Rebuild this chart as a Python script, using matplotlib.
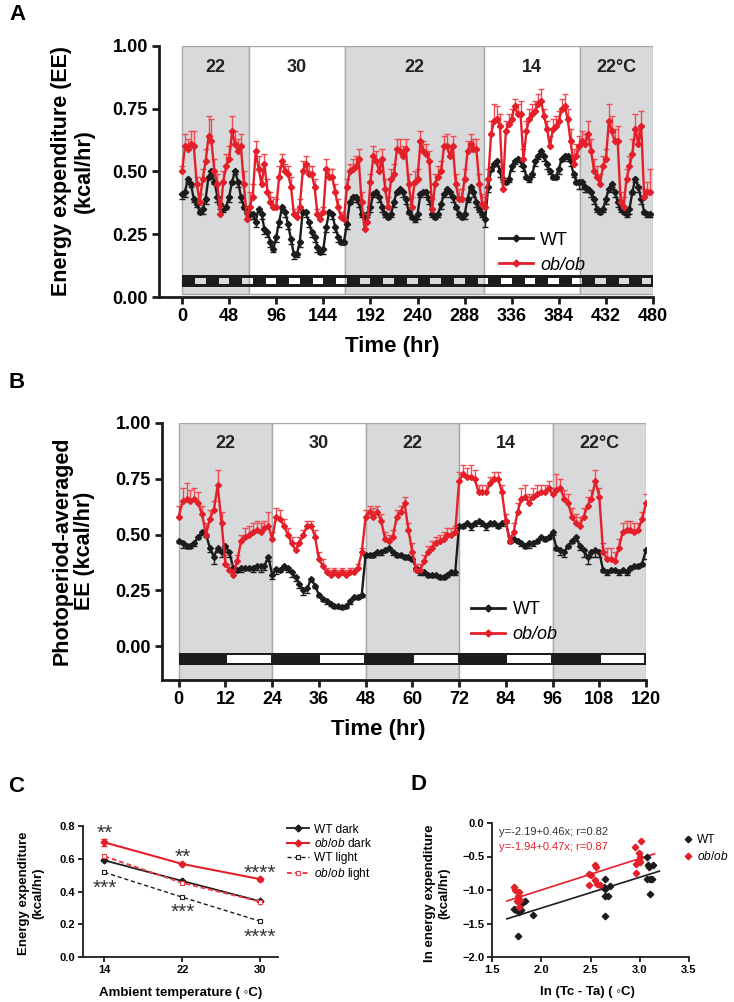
import numpy as np
import matplotlib.pyplot as plt
from matplotlib.patches import Rectangle
from matplotlib.lines import Line2D

plt.rcParams['mathtext.fontset'] = 'custom'
plt.rcParams['mathtext.it'] = 'Liberation Sans:italic'
plt.rcParams['mathtext.rm'] = 'Liberation Sans'

NARROW = ['Liberation Sans Narrow', 'DejaVu Sans Condensed', 'Liberation Sans', 'DejaVu Sans']
ARIAL = ['Liberation Sans', 'DejaVu Sans']
RED = '#e3202a'
RED_ERR = '#ee4b52'
BLACK = '#1c1c1c'
GRAY_BG = '#d8d9db'
EDGE = '#a8a8a8'

# ---- panel A: 3-hr bins over 480 hr (one row per day) ----
a_hours = np.arange(0, 480, 3)
a_wt = [0.41, 0.42, 0.47, 0.45, 0.39, 0.37, 0.34, 0.35,
        0.39, 0.48, 0.50, 0.46, 0.40, 0.37, 0.35, 0.36,
        0.40, 0.46, 0.50, 0.46, 0.40, 0.36, 0.34, 0.33,
        0.33, 0.30, 0.35, 0.33, 0.27, 0.26, 0.22, 0.19,
        0.24, 0.30, 0.36, 0.34, 0.29, 0.23, 0.17, 0.17,
        0.22, 0.34, 0.34, 0.30, 0.26, 0.24, 0.20, 0.18,
        0.19, 0.28, 0.34, 0.33, 0.28, 0.24, 0.22, 0.22,
        0.29, 0.38, 0.40, 0.40, 0.38, 0.33, 0.32, 0.33,
        0.36, 0.41, 0.42, 0.40, 0.36, 0.33, 0.32, 0.33,
        0.38, 0.42, 0.43, 0.42, 0.39, 0.34, 0.32, 0.31,
        0.33, 0.41, 0.42, 0.42, 0.39, 0.33, 0.32, 0.33,
        0.37, 0.41, 0.43, 0.42, 0.40, 0.36, 0.33, 0.32,
        0.33, 0.39, 0.44, 0.42, 0.38, 0.35, 0.33, 0.31,
        0.44, 0.51, 0.53, 0.54, 0.50, 0.47, 0.46, 0.47,
        0.52, 0.54, 0.55, 0.54, 0.52, 0.48, 0.47, 0.49,
        0.54, 0.56, 0.58, 0.56, 0.53, 0.50, 0.48, 0.48,
        0.51, 0.55, 0.56, 0.56, 0.54, 0.49, 0.46, 0.46,
        0.46, 0.44, 0.43, 0.42, 0.39, 0.35, 0.34, 0.35,
        0.39, 0.43, 0.45, 0.42, 0.38, 0.35, 0.34, 0.33,
        0.35, 0.42, 0.47, 0.44, 0.39, 0.34, 0.33, 0.33]
a_wt_err = [0.02, 0.02, 0.01, 0.01, 0.01, 0.01, 0.01, 0.02,
            0.02, 0.01, 0.01, 0.01, 0.02, 0.02, 0.01, 0.01,
            0.02, 0.01, 0.01, 0.02, 0.02, 0.01, 0.01, 0.02,
            0.02, 0.02, 0.01, 0.02, 0.02, 0.02, 0.02, 0.01,
            0.02, 0.02, 0.01, 0.02, 0.02, 0.02, 0.02, 0.01,
            0.02, 0.01, 0.02, 0.02, 0.02, 0.02, 0.02, 0.01,
            0.02, 0.02, 0.01, 0.02, 0.02, 0.02, 0.01, 0.01,
            0.02, 0.01, 0.01, 0.02, 0.02, 0.01, 0.01, 0.01,
            0.02, 0.01, 0.01, 0.02, 0.02, 0.01, 0.01, 0.01,
            0.02, 0.01, 0.01, 0.02, 0.02, 0.01, 0.01, 0.01,
            0.02, 0.01, 0.01, 0.02, 0.02, 0.01, 0.01, 0.01,
            0.02, 0.01, 0.01, 0.02, 0.02, 0.01, 0.01, 0.01,
            0.02, 0.01, 0.01, 0.02, 0.02, 0.01, 0.01, 0.03,
            0.02, 0.01, 0.01, 0.02, 0.02, 0.01, 0.01, 0.01,
            0.02, 0.01, 0.01, 0.02, 0.02, 0.01, 0.01, 0.01,
            0.02, 0.01, 0.01, 0.02, 0.02, 0.01, 0.01, 0.01,
            0.02, 0.01, 0.01, 0.02, 0.02, 0.01, 0.01, 0.03,
            0.03, 0.02, 0.01, 0.02, 0.02, 0.01, 0.01, 0.01,
            0.02, 0.01, 0.01, 0.02, 0.02, 0.01, 0.01, 0.01,
            0.02, 0.01, 0.01, 0.02, 0.02, 0.01, 0.01, 0.01]
a_ob = [0.50, 0.60, 0.59, 0.61, 0.60, 0.45, 0.38, 0.47,
        0.54, 0.64, 0.62, 0.50, 0.45, 0.33, 0.46, 0.52,
        0.55, 0.66, 0.61, 0.58, 0.60, 0.45, 0.31, 0.36,
        0.40, 0.58, 0.51, 0.45, 0.53, 0.42, 0.38, 0.36,
        0.36, 0.48, 0.54, 0.50, 0.49, 0.44, 0.33, 0.32,
        0.36, 0.50, 0.53, 0.49, 0.49, 0.44, 0.33, 0.31,
        0.34, 0.51, 0.48, 0.48, 0.42, 0.36, 0.32, 0.31,
        0.44, 0.50, 0.51, 0.52, 0.55, 0.38, 0.27, 0.30,
        0.46, 0.56, 0.54, 0.50, 0.55, 0.43, 0.36, 0.47,
        0.49, 0.59, 0.58, 0.56, 0.59, 0.45, 0.36, 0.46,
        0.47, 0.62, 0.58, 0.57, 0.54, 0.35, 0.45, 0.48,
        0.50, 0.60, 0.60, 0.56, 0.60, 0.45, 0.39, 0.39,
        0.47, 0.58, 0.61, 0.59, 0.59, 0.45, 0.37, 0.36,
        0.47, 0.65, 0.70, 0.71, 0.68, 0.43, 0.66, 0.69,
        0.71, 0.76, 0.73, 0.73, 0.55, 0.66, 0.71, 0.73,
        0.74, 0.77, 0.78, 0.72, 0.67, 0.60, 0.67, 0.68,
        0.70, 0.75, 0.76, 0.71, 0.62, 0.53, 0.56, 0.60,
        0.62, 0.61, 0.65, 0.58, 0.50, 0.48, 0.45, 0.52,
        0.55, 0.70, 0.66, 0.62, 0.62, 0.38, 0.36, 0.47,
        0.52, 0.57, 0.67, 0.61, 0.68, 0.40, 0.42, 0.42]
a_ob_err = [0.02, 0.05, 0.04, 0.05, 0.06, 0.03, 0.03, 0.04,
            0.05, 0.08, 0.09, 0.05, 0.04, 0.03, 0.04, 0.05,
            0.05, 0.06, 0.05, 0.05, 0.05, 0.05, 0.03, 0.06,
            0.05, 0.04, 0.05, 0.05, 0.04, 0.05, 0.04, 0.04,
            0.03, 0.04, 0.03, 0.03, 0.03, 0.04, 0.02, 0.02,
            0.03, 0.04, 0.03, 0.03, 0.03, 0.03, 0.02, 0.02,
            0.02, 0.04, 0.03, 0.03, 0.03, 0.03, 0.02, 0.02,
            0.03, 0.03, 0.04, 0.04, 0.04, 0.04, 0.03, 0.03,
            0.03, 0.04, 0.04, 0.04, 0.04, 0.04, 0.04, 0.04,
            0.04, 0.04, 0.05, 0.04, 0.04, 0.04, 0.04, 0.04,
            0.04, 0.04, 0.04, 0.04, 0.04, 0.04, 0.04, 0.04,
            0.04, 0.04, 0.05, 0.04, 0.04, 0.04, 0.04, 0.04,
            0.04, 0.04, 0.04, 0.04, 0.04, 0.04, 0.04, 0.04,
            0.04, 0.05, 0.07, 0.05, 0.05, 0.04, 0.04, 0.04,
            0.04, 0.03, 0.04, 0.05, 0.04, 0.04, 0.04, 0.04,
            0.04, 0.04, 0.05, 0.03, 0.03, 0.04, 0.04, 0.04,
            0.04, 0.04, 0.05, 0.04, 0.05, 0.06, 0.05, 0.04,
            0.04, 0.04, 0.05, 0.05, 0.05, 0.04, 0.04, 0.04,
            0.04, 0.07, 0.06, 0.05, 0.06, 0.04, 0.04, 0.04,
            0.04, 0.06, 0.06, 0.06, 0.06, 0.03, 0.04, 0.09]
a_bounds = [0, 68, 166, 308, 406, 480]
a_temps = ['22', '30', '22', '14', '22°C']

# ---- panel B: hourly photoperiod-averaged EE, 0-120 hr ----
b_hours = np.arange(0, 121)
b_wt = [0.47, 0.46, 0.45, 0.45, 0.46, 0.49, 0.51, 0.50, 0.44, 0.40, 0.44, 0.42,
        0.45, 0.42, 0.35, 0.34, 0.35, 0.35, 0.35, 0.35, 0.36, 0.36, 0.36, 0.40,
        0.32, 0.345, 0.34, 0.36, 0.35, 0.33, 0.31, 0.28, 0.25, 0.26, 0.30, 0.27,
        0.23, 0.21, 0.20, 0.19, 0.18, 0.18, 0.175, 0.18, 0.20, 0.22, 0.22, 0.23,
        0.41, 0.41, 0.41, 0.42, 0.42, 0.43, 0.44, 0.42, 0.41, 0.41, 0.40, 0.40,
        0.39, 0.35, 0.33, 0.33, 0.32, 0.32, 0.32, 0.31, 0.31, 0.32, 0.33, 0.33,
        0.54, 0.54, 0.55, 0.54, 0.55, 0.56, 0.55, 0.54, 0.55, 0.55, 0.54, 0.55,
        0.56, 0.47, 0.48, 0.47, 0.46, 0.45, 0.46, 0.46, 0.47, 0.49, 0.48, 0.49,
        0.51, 0.44, 0.43, 0.42, 0.45, 0.47, 0.49, 0.45, 0.43, 0.40, 0.42, 0.43,
        0.42, 0.34, 0.33, 0.34, 0.34, 0.33, 0.34, 0.33, 0.35, 0.36, 0.36, 0.37, 0.43]
b_wt_err = [0.01, 0.02, 0.01, 0.01, 0.01, 0.01, 0.01, 0.01, 0.02, 0.03, 0.02, 0.02,
            0.03, 0.02, 0.01, 0.01, 0.02, 0.01, 0.01, 0.02, 0.02, 0.03, 0.02, 0.02,
            0.02, 0.02, 0.01, 0.02, 0.02, 0.02, 0.02, 0.02, 0.02, 0.02, 0.01, 0.01,
            0.01, 0.01, 0.01, 0.01, 0.01, 0.01, 0.01, 0.01, 0.01, 0.01, 0.01, 0.01,
            0.01, 0.01, 0.01, 0.01, 0.01, 0.01, 0.01, 0.01, 0.01, 0.01, 0.01, 0.01,
            0.01, 0.01, 0.01, 0.01, 0.01, 0.01, 0.01, 0.01, 0.01, 0.01, 0.01, 0.01,
            0.01, 0.01, 0.01, 0.02, 0.01, 0.01, 0.01, 0.02, 0.01, 0.01, 0.01, 0.01,
            0.01, 0.01, 0.01, 0.01, 0.01, 0.01, 0.02, 0.01, 0.01, 0.01, 0.01, 0.01,
            0.01, 0.01, 0.02, 0.02, 0.01, 0.01, 0.02, 0.02, 0.03, 0.03, 0.02, 0.03,
            0.02, 0.01, 0.01, 0.01, 0.01, 0.01, 0.01, 0.01, 0.01, 0.01, 0.01, 0.01, 0.04]
b_ob = [0.58, 0.65, 0.66, 0.65, 0.66, 0.64, 0.59, 0.50, 0.57, 0.61, 0.72, 0.55,
        0.37, 0.34, 0.32, 0.38, 0.47, 0.49, 0.50, 0.51, 0.52, 0.51, 0.53, 0.54,
        0.48, 0.58, 0.57, 0.54, 0.50, 0.46, 0.43, 0.46, 0.50, 0.54, 0.54, 0.49,
        0.39, 0.36, 0.33, 0.32, 0.33, 0.32, 0.33, 0.32, 0.33, 0.33, 0.35, 0.42,
        0.58, 0.60, 0.58, 0.60, 0.56, 0.48, 0.47, 0.49, 0.58, 0.60, 0.64, 0.52,
        0.42, 0.34, 0.34, 0.38, 0.42, 0.44, 0.46, 0.47, 0.48, 0.50, 0.50, 0.51,
        0.74, 0.77, 0.76, 0.76, 0.75, 0.69, 0.69, 0.69, 0.73, 0.75, 0.75, 0.69,
        0.56, 0.47, 0.51, 0.60, 0.66, 0.67, 0.64, 0.67, 0.68, 0.69, 0.69, 0.71,
        0.68, 0.70, 0.71, 0.66, 0.64, 0.58, 0.55, 0.54, 0.58, 0.63, 0.66, 0.74,
        0.67, 0.42, 0.39, 0.39, 0.38, 0.44, 0.51, 0.52, 0.52, 0.51, 0.52, 0.57, 0.64]
b_ob_err = [0.05, 0.06, 0.07, 0.05, 0.05, 0.05, 0.04, 0.05, 0.04, 0.04, 0.07, 0.05,
            0.04, 0.03, 0.02, 0.03, 0.03, 0.04, 0.04, 0.04, 0.04, 0.04, 0.03, 0.06,
            0.03, 0.04, 0.04, 0.03, 0.03, 0.03, 0.03, 0.03, 0.02, 0.02, 0.02, 0.03,
            0.03, 0.03, 0.02, 0.02, 0.02, 0.02, 0.02, 0.02, 0.02, 0.02, 0.02, 0.02,
            0.03, 0.03, 0.04, 0.03, 0.03, 0.03, 0.03, 0.03, 0.03, 0.03, 0.03, 0.03,
            0.04, 0.03, 0.03, 0.03, 0.03, 0.03, 0.03, 0.03, 0.03, 0.03, 0.03, 0.03,
            0.04, 0.04, 0.04, 0.05, 0.04, 0.03, 0.03, 0.03, 0.03, 0.03, 0.03, 0.03,
            0.03, 0.03, 0.04, 0.04, 0.05, 0.05, 0.04, 0.04, 0.04, 0.03, 0.03, 0.03,
            0.03, 0.07, 0.04, 0.04, 0.04, 0.04, 0.04, 0.04, 0.04, 0.04, 0.04, 0.05,
            0.04, 0.04, 0.05, 0.05, 0.04, 0.04, 0.04, 0.04, 0.04, 0.04, 0.03, 0.03, 0.04]
b_bounds = [0, 24, 48, 72, 96, 120]
b_temps = ['22', '30', '22', '14', '22°C']

# ---- panel C ----
c_temp = [14, 22, 30]
c_wt_dark = [0.59, 0.464, 0.34]
c_ob_dark = [0.70, 0.568, 0.475]
c_ob_dark_err = [0.02, 0.008, 0.008]
c_wt_light = [0.517, 0.365, 0.218]
c_ob_light = [0.615, 0.452, 0.338]
c_stars = ['**', '**', '****', '***', '***', '****']

# ---- panel D ----
d_wt_x = [1.727, 1.747, 1.77, 1.794, 1.80, 1.84, 1.764, 1.913, 2.644, 2.634, 2.65, 2.695,
          2.65, 2.678, 2.644, 3.074, 3.08, 3.094, 3.13, 3.074, 3.10, 3.12, 3.10]
d_wt_y = [-1.29, -1.30, -1.33, -1.30, -1.20, -1.17, -1.69, -1.38, -0.83, -0.955, -0.98, -0.94,
          -1.095, -1.095, -1.39, -0.507, -0.632, -0.657, -0.62, -0.84, -0.84, -0.83, -1.065]
d_ob_x = [1.727, 1.737, 1.76, 1.777, 1.78, 1.754, 1.77, 2.48, 2.50, 2.55, 2.553, 2.55,
          2.566, 2.48, 2.60, 2.948, 3.013, 2.99, 3.0, 2.99, 3.006, 2.965, 2.96]
d_ob_y = [-0.955, -0.995, -1.09, -1.03, -1.144, -1.17, -1.25, -0.756, -0.78, -0.63, -0.657, -0.846,
          -0.905, -0.93, -0.93, -0.358, -0.27, -0.448, -0.507, -0.557, -0.582, -0.607, -0.746]
d_fit_wt = (-2.19, 0.46)
d_fit_ob = (-1.94, 0.47)

fig = plt.figure(figsize=(7.34, 10.02), dpi=100)


def style_time_axis(ax):
    for s in ['top', 'right']:
        ax.spines[s].set_visible(False)
    for s in ['left', 'bottom']:
        ax.spines[s].set_linewidth(2.0)
        ax.spines[s].set_color(BLACK)
    ax.tick_params(width=2.0, length=5, color=BLACK, pad=3)
    for lab in ax.get_xticklabels() + ax.get_yticklabels():
        lab.set_family(NARROW)
        lab.set_fontweight('bold')
        lab.set_fontsize(13)


def draw_series(ax, x, wt, wt_err, ob, ob_err, ms):
    z = np.zeros(len(wt))
    ax.errorbar(x, wt, yerr=[wt_err, z], fmt='none', ecolor=BLACK, elinewidth=1.0,
                capsize=2.5, capthick=1.0, zorder=3)
    ax.plot(x, wt, '-', color=BLACK, lw=1.7, marker='D', ms=ms, zorder=3)
    ax.errorbar(x, ob, yerr=[z, ob_err], fmt='none', ecolor=RED_ERR, elinewidth=1.0,
                capsize=2.5, capthick=1.0, zorder=4)
    ax.plot(x, ob, '-', color=RED, lw=1.7, marker='D', ms=ms, zorder=4)


def time_legend(ax, anchor):
    h = [Line2D([], [], color=BLACK, lw=2, marker='D', ms=3.5),
         Line2D([], [], color=RED, lw=2, marker='D', ms=3.5)]
    leg = ax.legend(h, ['WT', 'ob/ob'], loc='upper left', bbox_to_anchor=anchor,
                    frameon=False, handlelength=1.9, handletextpad=0.4, labelspacing=0.45,
                    prop={'family': NARROW, 'size': 13})
    leg.get_texts()[1].set_style('italic')


# ================= A =================
axA = fig.add_axes([159 / 734, 1 - 297 / 1002, 494 / 734, 251 / 1002])
for i in range(len(a_temps)):
    x0, x1 = a_bounds[i], a_bounds[i + 1]
    axA.add_patch(Rectangle((x0, 0.012), x1 - x0, 0.988, fc=GRAY_BG if i % 2 == 0 else 'white',
                            ec=EDGE, lw=1.0, zorder=0))
    axA.text((x0 + x1) / 2, 0.915, a_temps[i], ha='center', va='center', family=NARROW,
             fontweight='bold', fontsize=13, color='#222222')
# light/dark bar: black frame with light-period windows showing background
axA.add_patch(Rectangle((0, 0.038), 480, 0.012, fc=BLACK, lw=0, zorder=1))
axA.add_patch(Rectangle((0, 0.077), 480, 0.012, fc=BLACK, lw=0, zorder=1))
for d in range(20):
    axA.add_patch(Rectangle((24 * d, 0.038), 13.2, 0.051, fc=BLACK, lw=0, zorder=1))
axA.add_patch(Rectangle((477.5, 0.038), 2.5, 0.051, fc=BLACK, lw=0, zorder=1))
draw_series(axA, a_hours, a_wt, a_wt_err, a_ob, a_ob_err, 3.2)
axA.set_xlim(-23.5, 480)
axA.set_ylim(0, 1.0)
axA.set_xticks(np.arange(0, 481, 48))
axA.set_yticks([0, 0.25, 0.5, 0.75, 1.0])
axA.set_yticklabels(['0.00', '0.25', '0.50', '0.75', '1.00'])
style_time_axis(axA)
time_legend(axA, (0.655, 0.325))

fig.text(9 / 734, 1 - 14 / 1002, 'A', family=ARIAL, fontweight='bold', fontsize=16,
         ha='left', va='center')
fig.text(73 / 734, 1 - 171 / 1002, 'Energy expenditure (EE)\n(kcal/hr)', rotation=90,
         ha='center', va='center', family=ARIAL, fontweight='bold', fontsize=15.5,
         linespacing=1.1, multialignment='center')
fig.text(392 / 734, 1 - 347 / 1002, 'Time (hr)', ha='center', va='center', family=ARIAL,
         fontweight='bold', fontsize=16)

# ================= B =================
axB = fig.add_axes([162 / 734, 1 - 680 / 1002, 484 / 734, 257 / 1002])
for i in range(len(b_temps)):
    x0, x1 = b_bounds[i], b_bounds[i + 1]
    axB.add_patch(Rectangle((x0, -0.152), x1 - x0, 1.152, fc=GRAY_BG if i % 2 == 0 else 'white',
                            ec=EDGE, lw=1.0, zorder=0))
    axB.text((x0 + x1) / 2, 0.91, b_temps[i], ha='center', va='center', family=NARROW,
             fontweight='bold', fontsize=13, color='#222222')
axB.add_patch(Rectangle((0, -0.086), 120, 0.056, fc=BLACK, lw=0, zorder=1))
for d in range(5):
    axB.add_patch(Rectangle((24 * d + 12.4, -0.075), 11.2, 0.034, fc='white', lw=0, zorder=1))
draw_series(axB, b_hours, b_wt, b_wt_err, b_ob, b_ob_err, 3.0)
axB.set_xlim(-4.3, 120)
axB.set_ylim(-0.152, 1.0)
axB.set_xticks(np.arange(0, 121, 12))
axB.set_yticks([0, 0.25, 0.5, 0.75, 1.0])
axB.set_yticklabels(['0.00', '0.25', '0.50', '0.75', '1.00'])
style_time_axis(axB)
time_legend(axB, (0.605, 0.37))

fig.text(9 / 734, 1 - 383 / 1002, 'B', family=ARIAL, fontweight='bold', fontsize=16,
         ha='left', va='center')
fig.text(73 / 734, 1 - 551 / 1002, 'Photoperiod-averaged\nEE (kcal/hr)', rotation=90,
         ha='center', va='center', family=ARIAL, fontweight='bold', fontsize=15.5,
         linespacing=1.1, multialignment='center')
fig.text(378 / 734, 1 - 730 / 1002, 'Time (hr)', ha='center', va='center', family=ARIAL,
         fontweight='bold', fontsize=16)


def style_small_axis(ax):
    for s in ['top', 'right']:
        ax.spines[s].set_visible(False)
    for s in ['left', 'bottom']:
        ax.spines[s].set_linewidth(1.3)
        ax.spines[s].set_color(BLACK)
    ax.tick_params(width=1.3, length=3.5, color=BLACK, pad=2)
    for lab in ax.get_xticklabels() + ax.get_yticklabels():
        lab.set_family(ARIAL)
        lab.set_fontweight('bold')
        lab.set_fontsize(8)


# ================= C =================
axC = fig.add_axes([83 / 734, 1 - 957 / 1002, 195 / 734, 131 / 1002])
h1, = axC.plot(c_temp, c_wt_dark, '-', color=BLACK, lw=1.3, marker='D', ms=3.5)
axC.errorbar(c_temp, c_ob_dark, yerr=c_ob_dark_err, fmt='none', ecolor=RED, capsize=2.5,
             elinewidth=1.2)
h2, = axC.plot(c_temp, c_ob_dark, '-', color=RED, lw=1.5, marker='D', ms=3.5)
h3, = axC.plot(c_temp, c_wt_light, '--', color=BLACK, lw=1.0, marker='s', ms=3.2, mfc='white',
               mew=0.8, dashes=(3, 2))
h4, = axC.plot(c_temp, c_ob_light, '--', color='#ec4148', lw=1.4, marker='s', ms=3.2,
               mfc='white', mew=0.8, dashes=(2.5, 1.5))
star_xy = [(14, 0.755), (22, 0.61), (29.9, 0.51), (14, 0.42), (22, 0.275), (29.9, 0.12)]
for s, (sx, sy) in zip(c_stars, star_xy):
    axC.text(sx, sy, s, ha='center', va='center', family=ARIAL, fontsize=15, color='#333333')
axC.set_xlim(11.8, 31.8)
axC.set_ylim(0, 0.8)
axC.set_xticks(c_temp)
axC.set_yticks([0, 0.2, 0.4, 0.6, 0.8])
style_small_axis(axC)
axC.legend([h1, h2, h3, h4], ['WT dark', r'$\it{ob/ob}$ dark', 'WT light', r'$\it{ob/ob}$ light'],
           loc='upper left', bbox_to_anchor=(0.99, 1.1), frameon=False, handlelength=1.9,
           handletextpad=0.4, labelspacing=0.15, prop={'family': ARIAL, 'size': 8.6})
fig.text(8 / 734, 1 - 787 / 1002, 'C', family=ARIAL, fontweight='bold', fontsize=16,
         ha='left', va='center')
fig.text(31 / 734, 1 - 893 / 1002, 'Energy expenditure\n(kcal/hr)', rotation=90, ha='center',
         va='center', family=ARIAL, fontweight='bold', fontsize=9.5, multialignment='center')
fig.text(181 / 734, 1 - 993 / 1002, 'Ambient temperature ( \u25e6C)', ha='center', va='center',
         family=ARIAL, fontweight='bold', fontsize=9.5)

# ================= D =================
axD = fig.add_axes([492 / 734, 1 - 957 / 1002, 197 / 734, 134 / 1002])
axD.plot(d_wt_x, d_wt_y, 'D', color=BLACK, ms=3.3, label='WT', zorder=3)
axD.plot(d_ob_x, d_ob_y, 'D', color=RED, ms=3.3, label=r'$\it{ob/ob}$', zorder=3)
xw = np.array([1.65, 3.2])
xo = np.array([1.65, 3.15])
axD.plot(xw, d_fit_wt[0] + d_fit_wt[1] * xw, '-', color=BLACK, lw=1.2, zorder=2)
axD.plot(xo, d_fit_ob[0] + d_fit_ob[1] * xo, '-', color=RED, lw=1.2, zorder=2)
axD.text(1.57, -0.13, 'y=-2.19+0.46x; r=0.82', color='#333333', family=ARIAL, fontsize=8,
         va='center')
axD.text(1.57, -0.36, 'y=-1.94+0.47x; r=0.87', color=RED, family=ARIAL, fontsize=8,
         va='center')
axD.set_xlim(1.5, 3.5)
axD.set_ylim(-2.0, 0.0)
axD.set_xticks([1.5, 2.0, 2.5, 3.0, 3.5])
axD.set_yticks([-2.0, -1.5, -1.0, -0.5, 0.0])
style_small_axis(axD)
axD.legend(loc='upper left', bbox_to_anchor=(0.935, 0.97), frameon=False, handlelength=0.8,
           handletextpad=0.35, labelspacing=0.3, borderaxespad=0.2,
           prop={'family': ARIAL, 'size': 8.6})
fig.text(410 / 734, 1 - 785 / 1002, 'D', family=ARIAL, fontweight='bold', fontsize=16,
         ha='left', va='center')
fig.text(437 / 734, 1 - 893 / 1002, 'ln energy expenditure\n(kcal/hr)', rotation=90,
         ha='center', va='center', family=ARIAL, fontweight='bold', fontsize=9.5,
         multialignment='center')
fig.text(587 / 734, 1 - 992 / 1002, 'ln (Tc - Ta) ( \u25e6C)', ha='center', va='center',
         family=ARIAL, fontweight='bold', fontsize=9.5)

fig.savefig('out.png', dpi=100)
